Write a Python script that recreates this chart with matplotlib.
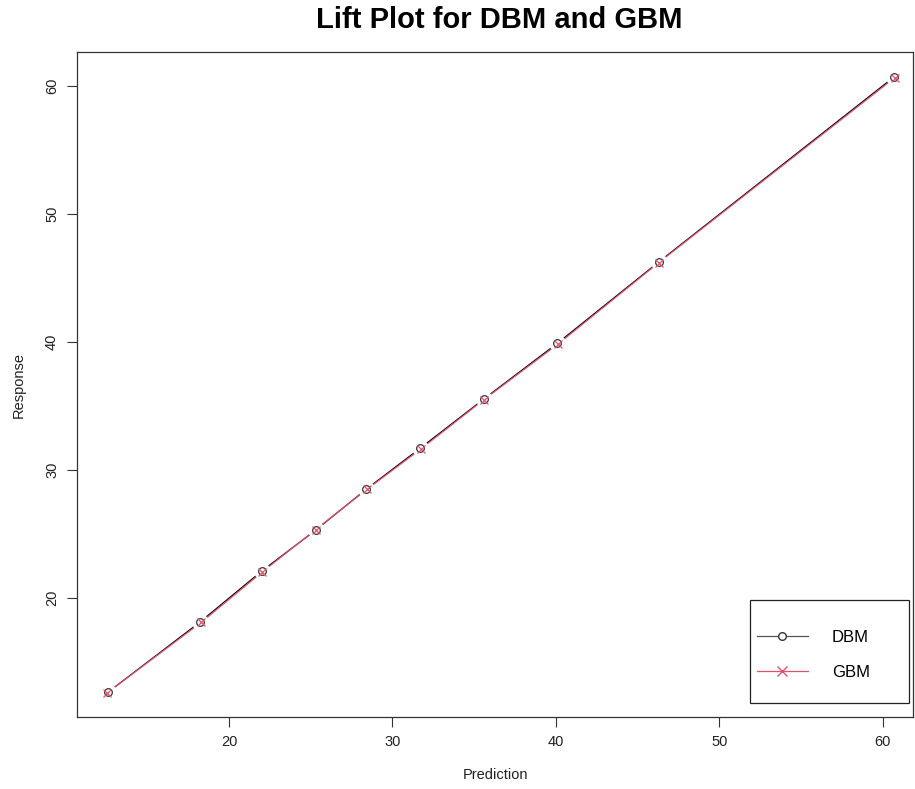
import matplotlib
matplotlib.use('Agg')
import matplotlib.pyplot as plt
from matplotlib.lines import Line2D
from matplotlib.patches import Rectangle

matplotlib.rcParams.update({
    'font.family': ['Liberation Sans', 'DejaVu Sans'],
    'font.size': 10,
})

# decile means
dbm_pred = [12.6, 18.25, 22.0, 25.3, 28.4, 31.7, 35.6, 40.1, 46.3, 60.7]
dbm_resp = [12.65, 18.15, 22.1, 25.3, 28.5, 31.7, 35.55, 39.9, 46.25, 60.7]
gbm_pred = [12.55, 18.3, 22.05, 25.3, 28.45, 31.75, 35.6, 40.15, 46.3, 60.75]
gbm_resp = [12.6, 18.1, 22.05, 25.35, 28.5, 31.65, 35.5, 39.85, 46.2, 60.65]

x_ticks = [20, 30, 40, 50, 60]
y_ticks = [20, 30, 40, 50, 60]

DBM_COLOR = "#000000"
GBM_COLOR = "#DF536B"

fig = plt.figure(figsize=(9.15, 7.89), dpi=100)
ax = fig.add_axes([0.0842, 0.0916, 0.9136, 0.842])

# type="b" style: lines with gaps round the points
ax.plot(dbm_pred, dbm_resp, color=DBM_COLOR, lw=0.9, zorder=2)
ax.plot(gbm_pred, gbm_resp, color=GBM_COLOR, lw=0.9, zorder=2)
ax.plot(dbm_pred, dbm_resp, ls="none", marker="o", ms=11,
        mfc="white", mec="white", zorder=3)
ax.plot(dbm_pred, dbm_resp, ls="none", marker="o", ms=5.5,
        mfc="none", mec="#333333", mew=0.9, zorder=4)
ax.plot(gbm_pred, gbm_resp, ls="none", marker="x", ms=5.5,
        color=GBM_COLOR, mew=0.9, zorder=5)

ax.set_xlim(10.7, 61.86)
ax.set_ylim(10.73, 62.62)
ax.set_xticks(x_ticks)
ax.set_yticks(y_ticks)
ax.tick_params(direction="out", length=7, width=0.8, color="#333333",
               labelsize=10.5, labelcolor="#222222")
ax.tick_params(axis="x", pad=6)
ax.tick_params(axis="y", pad=6)
for lbl in ax.get_yticklabels():
    lbl.set_rotation(90)
    lbl.set_va("center")
for s in ax.spines.values():
    s.set_color("#333333")
    s.set_linewidth(0.9)

ax.set_xlabel("Prediction", fontsize=10.5, labelpad=14, color="#222222")
ax.set_ylabel("Response", fontsize=10.5, labelpad=14, color="#222222")
fig.suptitle("Lift Plot for DBM and GBM", fontsize=21, fontweight="bold",
             x=0.546, y=0.993)

# legend box drawn separately (R style: wide right padding)
ax.add_patch(Rectangle((0.805, 0.0206), 0.19, 0.1552, transform=ax.transAxes,
                       facecolor="white", edgecolor="#222222", lw=0.9,
                       zorder=6))
handles = [
    Line2D([], [], color="#555555", lw=0.9, marker="o", ms=5.5,
           mfc="white", mec="#333333"),
    Line2D([], [], color=GBM_COLOR, lw=0.9, marker="x", ms=7),
]
leg = ax.legend(handles, ["DBM", "GBM"], loc="upper left",
                bbox_to_anchor=(0.8134, 0.1306), fontsize=12,
                frameon=False, handlelength=3.05, handletextpad=1.45,
                borderpad=0, labelspacing=1.2, borderaxespad=0)
leg.set_zorder(7)

plt.savefig("out.png", dpi=100)
plt.close()
